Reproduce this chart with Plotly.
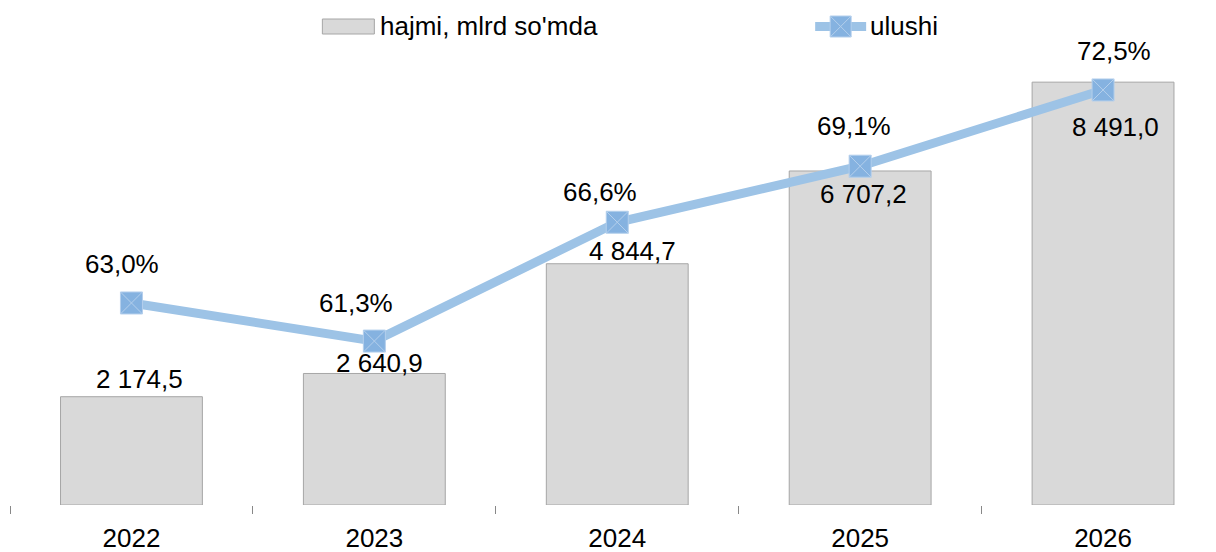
import plotly.graph_objects as go

years = ["2022", "2023", "2024", "2025", "2026"]
volume = [2174.5, 2640.9, 4844.7, 6707.2, 8491.0]   # hajmi, mlrd so'mda
share = [63.0, 61.3, 66.6, 69.1, 72.5]              # ulushi, %

bar_name = "hajmi, mlrd so'mda"
line_name = "ulushi"

# label offsets (pixels), mimicking manual placement in the source chart
vol_label_dx = [8, 5, 15, 3, 12]
vol_label_dy = [17, 9, 12, -24, -46]
share_label_dx = [-9, -18, -17, -6, 11]
share_label_dy = [38, 37, 29, 39, 38]


def fmt_num(v):
    s = f"{v:,.1f}"
    return s.replace(",", " ").replace(".", ",")


def fmt_pct(v):
    return f"{v:.1f}".replace(".", ",") + "%"


FONT = "Liberation Sans, Arial, sans-serif"
FS = 26
BAR_FILL = "#d9d9d9"
BAR_LINE = "#a6a6a6"
LINE_COL = "#9dc3e6"
MARK_COL = "#85b2e0"
MARK_EDGE = "#b4cfec"

# page body has an 8px margin: screen px = figure px + 8
OFF = 8
W, H = 1216, 552
PL, PR, PT, PB = 9.5 - OFF, 1216.0 - OFF, 12.0, 505.0 - OFF

fig = go.Figure()
fig.add_trace(go.Bar(
    x=years, y=volume, name=bar_name,
    marker=dict(color=BAR_FILL, line=dict(color=BAR_LINE, width=1)),
    width=0.584, yaxis="y", showlegend=False, hoverinfo="x+y",
))
fig.add_trace(go.Scatter(
    x=years, y=share, name=line_name, mode="lines+markers",
    line=dict(color=LINE_COL, width=9),
    marker=dict(symbol="square-x", size=22, color=MARK_COL,
                line=dict(color=MARK_EDGE, width=1)),
    yaxis="y2", showlegend=False,
))

annotations = []
for i, v in enumerate(volume):
    annotations.append(dict(
        x=i, y=v, xref="x", yref="y", text=fmt_num(v), showarrow=False,
        xanchor="center", yanchor="middle",
        xshift=vol_label_dx[i], yshift=vol_label_dy[i] + 1,
        font=dict(family=FONT, size=FS, color="#000000"),
    ))
for i, v in enumerate(share):
    annotations.append(dict(
        x=i, y=v, xref="x", yref="y2", text=fmt_pct(v), showarrow=False,
        xanchor="center", yanchor="middle",
        xshift=share_label_dx[i], yshift=share_label_dy[i] + 1,
        font=dict(family=FONT, size=FS, color="#000000"),
    ))


# manual legend: screen px -> paper coords
def px(xs):
    return (xs - OFF - PL) / (PR - PL)


def py(ys):
    return (PB - (ys - OFF)) / (PB - PT)


LEG_Y = 26.5
shapes = [
    dict(type="rect", xref="paper", yref="paper",
         x0=px(322), x1=px(374), y0=py(34), y1=py(19),
         fillcolor=BAR_FILL, line=dict(color=BAR_LINE, width=1)),
    dict(type="line", xref="paper", yref="paper",
         x0=px(815), x1=px(866), y0=py(LEG_Y), y1=py(LEG_Y),
         line=dict(color=LINE_COL, width=9)),
    dict(type="rect", xref="paper", yref="paper",
         x0=px(830), x1=px(851), y0=py(LEG_Y + 10.5), y1=py(LEG_Y - 10.5),
         fillcolor=MARK_COL, line=dict(color=MARK_EDGE, width=1)),
    dict(type="line", xref="paper", yref="paper",
         x0=px(830), x1=px(851), y0=py(LEG_Y + 10.5), y1=py(LEG_Y - 10.5),
         line=dict(color=MARK_EDGE, width=1)),
    dict(type="line", xref="paper", yref="paper",
         x0=px(830), x1=px(851), y0=py(LEG_Y - 10.5), y1=py(LEG_Y + 10.5),
         line=dict(color=MARK_EDGE, width=1)),
]
annotations.append(dict(x=px(378), y=py(LEG_Y), xref="paper", yref="paper",
                        text=bar_name, showarrow=False, xanchor="left",
                        yanchor="middle",
                        font=dict(family=FONT, size=FS, color="#000000")))
annotations.append(dict(x=px(868), y=py(LEG_Y), xref="paper", yref="paper",
                        text=line_name, showarrow=False, xanchor="left",
                        yanchor="middle",
                        font=dict(family=FONT, size=FS, color="#000000")))

fig.update_layout(
    width=W, height=H,
    margin=dict(l=PL, r=W - PR, t=PT, b=H - PB, pad=0),
    paper_bgcolor="white", plot_bgcolor="white",
    font=dict(family=FONT, size=FS, color="#000000"),
    xaxis=dict(type="category", range=[-0.5, 4.465], showgrid=False,
               showline=False, zeroline=False, ticks="outside",
               tickson="boundaries", ticklen=8, tickwidth=1,
               tickcolor="#888888", ticklabelstandoff=15,
               tickfont=dict(size=FS, family=FONT, color="#000000")),
    yaxis=dict(range=[0, 9739], visible=False, showgrid=False),
    yaxis2=dict(range=[53.99, 75.62], overlaying="y", side="right",
                visible=False, showgrid=False),
    shapes=shapes,
    annotations=annotations,
    showlegend=False,
)

fig.write_html("out.html")
